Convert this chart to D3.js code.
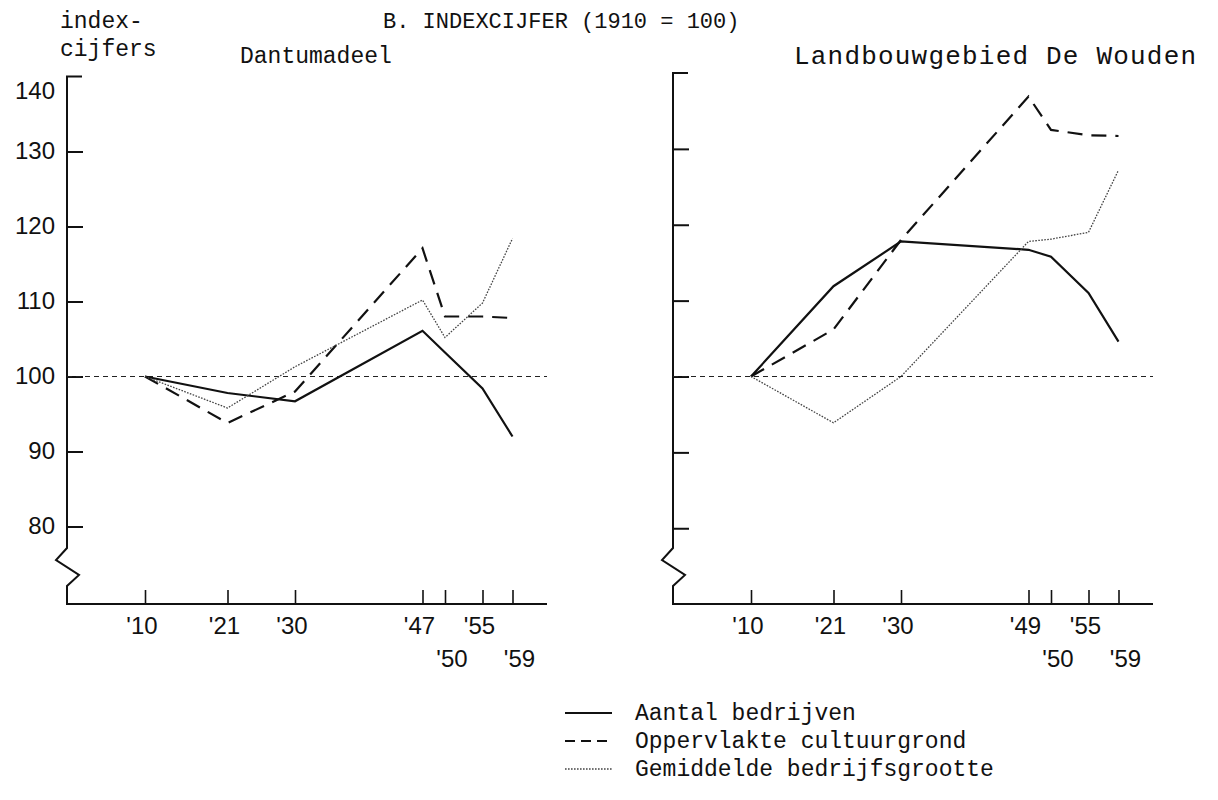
<!DOCTYPE html>
<html>
<head>
<meta charset="utf-8">
<script src="https://cdn.jsdelivr.net/npm/d3@7"></script>
<style>
  body { margin: 0; background: #fff; }
  .mono { font-family: "Liberation Mono", "DejaVu Sans Mono", monospace; }
  .sans { font-family: "Liberation Sans", Arial, sans-serif; }
</style>
</head>
<body>
<svg id="chart" width="1218" height="800"></svg>
<script>
// Indexcijfers (1910 = 100), Dantumadeel and Landbouwgebied De Wouden

const yearsDantumadeel = [1910, 1921, 1930, 1947, 1950, 1955, 1959];
const yearsWouden = [1910, 1921, 1930, 1949, 1950, 1955, 1959];
const labelsDantumadeel = ["'10", "'21", "'30", "'47", "'50", "'55", "'59"];
const labelsWouden = ["'10", "'21", "'30", "'49", "'50", "'55", "'59"];
const labelRow = [0, 0, 0, 0, 1, 0, 1];

// Dantumadeel
const aantalD = [100, 97.8, 96.7, 106.1, 103.2, 98.4, 92.0];
const oppervlakteD = [100, 93.8, 98.0, 117.1, 108.0, 108.0, 107.8];
const grootteD = [100, 95.8, 101.3, 110.2, 105.2, 109.8, 118.4];

// Landbouwgebied De Wouden
const aantalW = [100, 111.9, 117.8, 116.7, 115.8, 111.0, 104.6];
const oppervlakteW = [100, 106.2, 118.0, 136.9, 132.5, 131.8, 131.7];
const grootteW = [100, 93.9, 100.0, 117.8, 118.1, 119.0, 127.2];

const yTicks = [80, 90, 100, 110, 120, 130];
const yLabels = [80, 90, 100, 110, 120, 130, 140];
const legendNames = ["Aantal bedrijven", "Oppervlakte cultuurgrond", "Gemiddelde bedrijfsgrootte"];

const svg = d3.select('#chart');

const styles = [
  { width: 2.2, dash: null, color: '#111' },
  { width: 2.2, dash: '15,9', color: '#111' },
  { width: 1.3, dash: '1.6,1.4', color: '#444' }
];

const baseY = 604;     // x-axis line
const axisLen = 480;   // length of x-axis

function drawPanel(axisX, yTop, years, labels, series, showYLabels) {
  const g = svg.append('g');

  // year scale, ~7.5 px per year; the Wouden '49 tick sits at the '47 spot
  const base = d3.scaleLinear().domain([1910, 1959]).range([axisX + 78, axisX + 445.5]);
  const x = d3.scaleLinear()
    .domain([1910, 1930, years[3], 1950, 1959])
    .range([1910, 1930, 1947, 1950, 1959].map(base));
  const y = d3.scaleLinear().domain([100, 140]).range([376.5, yTop]);

  // y axis with break
  const brk = 548;
  const path = d3.path();
  path.moveTo(axisX + 15, y(140));
  path.lineTo(axisX, y(140));
  path.lineTo(axisX, brk);
  path.lineTo(axisX - 11, brk + 12);
  path.lineTo(axisX + 12, brk + 27);
  path.lineTo(axisX, brk + 38);
  path.lineTo(axisX, baseY);
  path.lineTo(axisX + axisLen, baseY);
  g.append('path')
    .attr('d', path.toString())
    .attr('fill', 'none')
    .attr('stroke', '#111')
    .attr('stroke-width', 2);

  // y ticks
  const yAxis = g.append('g')
    .attr('transform', `translate(${axisX},0)`)
    .call(d3.axisRight(y).tickValues(yTicks).tickSize(16).tickFormat(''));
  yAxis.select('.domain').remove();
  yAxis.selectAll('line').attr('stroke', '#111').attr('stroke-width', 2);

  if (showYLabels) {
    // the top label sits a little below its corner, under "cijfers"
    g.selectAll('.ylab')
      .data(yLabels)
      .join('text')
      .attr('class', 'sans')
      .attr('x', axisX - 12)
      .attr('y', d => y(d) + (d === 140 ? 22 : 7))
      .attr('text-anchor', 'end')
      .attr('font-size', 24)
      .attr('fill', '#111')
      .text(d => d);
  }

  // x ticks (pointing up)
  const xAxis = g.append('g')
    .attr('transform', `translate(0,${baseY})`)
    .call(d3.axisTop(x).tickValues(years).tickSize(14).tickFormat(''));
  xAxis.select('.domain').remove();
  xAxis.selectAll('line').attr('stroke', '#111').attr('stroke-width', 1.6);

  g.selectAll('.xlab')
    .data(years)
    .join('text')
    .attr('class', 'sans')
    .attr('x', (d, i) => x(d) + (labelRow[i] ? 7 : -3))
    .attr('y', (d, i) => labelRow[i] ? 667 : 634)
    .attr('text-anchor', 'middle')
    .attr('font-size', 24)
    .attr('fill', '#111')
    .text((d, i) => labels[i]);

  // 100 reference line
  g.append('line')
    .attr('x1', axisX).attr('x2', axisX + axisLen)
    .attr('y1', y(100)).attr('y2', y(100))
    .attr('stroke', '#222')
    .attr('stroke-width', 1.2)
    .attr('stroke-dasharray', '5,4');

  const line = d3.line()
    .x((d, i) => x(years[i]))
    .y(d => y(d));

  series.forEach((s, k) => {
    g.append('path')
      .datum(s)
      .attr('d', line)
      .attr('fill', 'none')
      .attr('stroke', styles[k].color)
      .attr('stroke-width', styles[k].width)
      .attr('stroke-dasharray', styles[k].dash)
      .attr('stroke-linejoin', 'miter');
  });
}

drawPanel(67, 76.5, yearsDantumadeel, labelsDantumadeel, [aantalD, oppervlakteD, grootteD], true);
drawPanel(673, 73, yearsWouden, labelsWouden, [aantalW, oppervlakteW, grootteW], false);

// texts
svg.append('text').attr('class', 'mono').attr('x', 60).attr('y', 28)
  .attr('font-size', 23).attr('fill', '#111').text('index-');
svg.append('text').attr('class', 'mono').attr('x', 60).attr('y', 56)
  .attr('font-size', 23).attr('fill', '#111').text('cijfers');

svg.append('text').attr('class', 'mono').attr('x', 383).attr('y', 28)
  .attr('font-size', 22).attr('fill', '#111').text('B. INDEXCIJFER (1910 = 100)');

svg.append('text').attr('class', 'mono').attr('x', 240).attr('y', 63)
  .attr('font-size', 23).attr('fill', '#111').text('Dantumadeel');
svg.append('text').attr('class', 'mono').attr('x', 794).attr('y', 64)
  .attr('font-size', 26).attr('letter-spacing', 1.2).attr('fill', '#111')
  .text('Landbouwgebied De Wouden');

// legend
const legend = svg.append('g');
legendNames.forEach((name, k) => {
  const ly = 713 + k * 28;
  legend.append('line')
    .attr('x1', 565).attr('x2', 612)
    .attr('y1', ly).attr('y2', ly)
    .attr('stroke', styles[k].color)
    .attr('stroke-width', k === 2 ? 1.6 : 2)
    .attr('stroke-dasharray', k === 1 ? '10,6' : styles[k].dash);
  legend.append('text')
    .attr('class', 'mono')
    .attr('x', 635).attr('y', ly + 7)
    .attr('font-size', 23).attr('fill', '#111')
    .text(name);
});
</script>
</body>
</html>
